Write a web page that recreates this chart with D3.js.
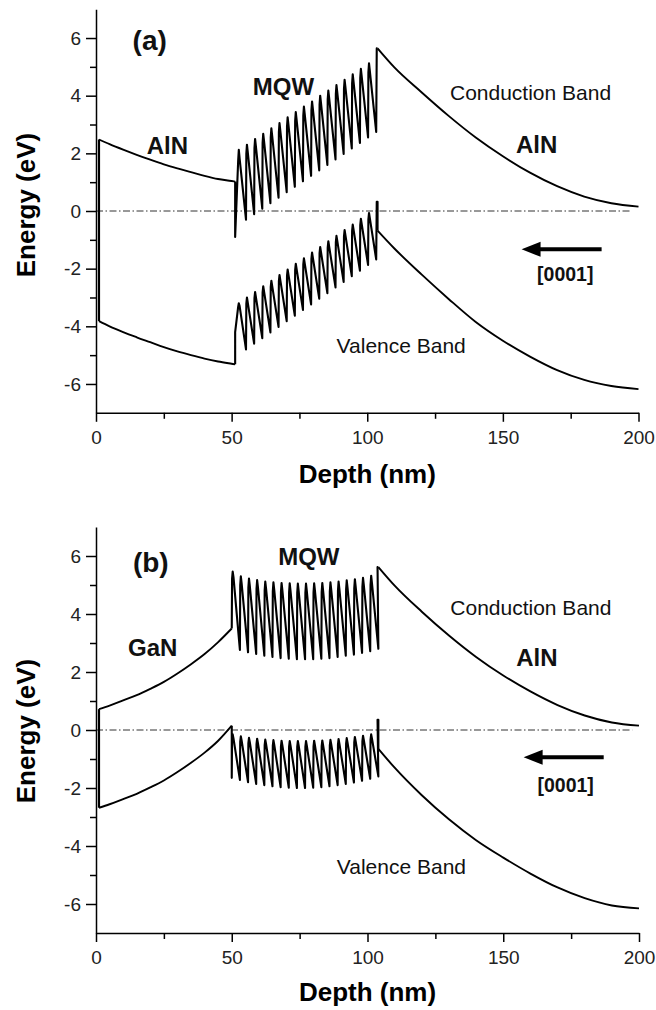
<!DOCTYPE html>
<html><head><meta charset="utf-8">
<script src="https://cdn.jsdelivr.net/npm/d3@7"></script>
<style>
body{margin:0;background:#fff;}
svg{display:block;font-family:"Liberation Sans",Arial,sans-serif;}
</style></head>
<body><svg id="c" width="656" height="1010"></svg>
<script>
// ---------- tick labels ----------
const xTicks = [0, 50, 100, 150, 200];
const xMinor = [25, 75, 125, 175];
const yTicks = [-6, -4, -2, 0, 2, 4, 6];
const yMinor = [-5, -3, -1, 1, 3, 5];

// ---------- panel (a) : AlN / MQW / AlN ----------
const aCbLeft = [[1.1,2.48],[5,2.32],[10,2.13],[15,1.95],[20,1.78],[25,1.62],[30,1.48],[35,1.35],[40,1.22],[45,1.11],[50,1.04],[51.3,1.02]];
const aVbLeft = [[1.1,-3.82],[5,-4.0],[10,-4.2],[15,-4.38],[20,-4.55],[25,-4.72],[30,-4.87],[35,-5.0],[40,-5.12],[45,-5.22],[50,-5.3],[51.3,-5.32]];
const aCbRight = [[103.8,5.64],[110,4.98],[120,4.12],[130,3.3],[140,2.55],[150,1.9],[160,1.33],[170,0.86],[180,0.5],[190,0.27],[200,0.15]];
const aVbRight = [[103.8,-0.68],[110,-1.3],[120,-2.2],[130,-3.05],[140,-3.85],[150,-4.5],[160,-5.05],[170,-5.52],[180,-5.86],[190,-6.07],[200,-6.18]];
// MQW fingers (a): first bottom right after the step at 51.3, fingers every 3 nm
const aMqwStart = 52.3;
const aCbTops = [2.12,2.3,2.5,2.68,2.87,3.05,3.25,3.43,3.62,3.8,4.0,4.18,4.37,4.55,4.74,4.93,5.12];
const aCbBots = [-0.9,-0.3,-0.11,0.08,0.27,0.46,0.65,0.84,1.03,1.22,1.41,1.6,1.79,1.98,2.17,2.36,2.55,2.74];
const aVbTops = [-3.2,-3.0,-2.81,-2.61,-2.42,-2.22,-2.03,-1.83,-1.64,-1.44,-1.25,-1.05,-0.86,-0.66,-0.47,-0.27,-0.07];
const aVbBots = [-4.2,-4.8,-4.6,-4.41,-4.21,-4.02,-3.82,-3.63,-3.43,-3.24,-3.04,-2.85,-2.65,-2.46,-2.26,-2.07,-1.87,-1.68];
const aCbPeak = 5.64, aVbPeak = 0.32;

// ---------- panel (b) : GaN / MQW / AlN ----------
const bCbLeft = [[1.1,0.72],[5,0.84],[10,1.02],[15,1.2],[20,1.42],[25,1.66],[30,1.95],[35,2.27],[40,2.62],[45,3.03],[50,3.5]];
const bVbLeft = [[1.1,-2.68],[5,-2.56],[10,-2.38],[15,-2.2],[20,-1.98],[25,-1.74],[30,-1.45],[35,-1.13],[40,-0.78],[45,-0.37],[50,0.15]];
const bCbRight = [[104,5.62],[110,4.98],[120,4.08],[130,3.26],[140,2.52],[150,1.88],[160,1.33],[170,0.86],[180,0.5],[190,0.26],[200,0.15]];
const bVbRight = [[104,-0.65],[110,-1.3],[120,-2.25],[130,-3.08],[140,-3.8],[150,-4.4],[160,-4.95],[170,-5.43],[180,-5.8],[190,-6.05],[200,-6.15]];
const bMqwStart = 50;
const bCbTops = [5.46,5.3,5.22,5.17,5.12,5.09,5.07,5.06,5.05,5.05,5.06,5.07,5.09,5.12,5.16,5.2,5.25,5.32];
const bCbBots = [3.5,2.76,2.68,2.62,2.56,2.52,2.48,2.46,2.44,2.44,2.44,2.46,2.48,2.52,2.56,2.6,2.66,2.72,2.8];
const bVbTops = [-0.15,-0.22,-0.27,-0.3,-0.33,-0.35,-0.37,-0.38,-0.38,-0.38,-0.37,-0.36,-0.34,-0.31,-0.28,-0.24,-0.2,-0.15];
const bVbBots = [-1.65,-1.72,-1.8,-1.86,-1.9,-1.94,-1.97,-1.99,-2.0,-2.0,-1.99,-1.97,-1.94,-1.9,-1.86,-1.81,-1.75,-1.68,-1.6];
const bCbPeak = 5.62, bVbPeak = 0.35;
const period = 3.0;

// ---------- annotations (data units) ----------
const aLabels = [
  {t:"(a)", x:13.5, y:5.58, bold:true, size:28},
  {t:"MQW", x:57.8, y:4.02, bold:true, size:24},
  {t:"AlN", x:18.7, y:1.98, bold:true, size:24},
  {t:"Conduction Band", x:130.5, y:3.85, bold:false, size:21},
  {t:"AlN", x:154.8, y:2.0, bold:true, size:24},
  {t:"Valence Band", x:88.7, y:-4.91, bold:false, size:21},
  {t:"[0001]", x:162.6, y:-2.42, bold:true, size:19.5}
];
const bLabels = [
  {t:"(b)", x:13.6, y:5.45, bold:true, size:28},
  {t:"MQW", x:67.1, y:5.69, bold:true, size:24},
  {t:"GaN", x:11.8, y:2.55, bold:true, size:24},
  {t:"Conduction Band", x:130.5, y:3.98, bold:false, size:21},
  {t:"AlN", x:154.8, y:2.2, bold:true, size:24},
  {t:"Valence Band", x:88.7, y:-4.96, bold:false, size:21},
  {t:"[0001]", x:162.6, y:-2.13, bold:true, size:19.5}
];
const aArrow = {x1:186.4, x2:156.9, y:-1.33};
const bArrow = {x1:187.0, x2:157.5, y:-0.94};

const svg = d3.select("#c");

function fingers(start, tops, bots, firstX, peak, peakX) {
  // builds the MQW sawtooth from the read tops / bottoms
  const pts = [[firstX, bots[0]]];
  tops.forEach((t, i) => {
    const x0 = start + i * period;
    const b = bots[i];
    const h = t - b;
    if (i > 0) pts.push([x0, b]);
    pts.push([x0 + 0.12, t - 0.12 * h]);
    pts.push([x0 + 0.35, t]);
    pts.push([x0 + 0.65, t - 0.1 * h]);
  });
  const xe = start + tops.length * period;
  pts.push([xe, bots[tops.length]]);
  pts.push([peakX, peak]);
  return pts;
}

function panel(cfg) {
  const x = d3.scaleLinear([0, 200], cfg.xr);
  const y = d3.scaleLinear([-7, 7], cfg.yr);
  const g = svg.append("g");
  const smooth = d3.line().x(d => x(d[0])).y(d => y(d[1])).curve(d3.curveMonotoneX);
  const lin = d3.line().x(d => x(d[0])).y(d => y(d[1]));

  // zero line
  g.append("line").attr("x1", x(0)).attr("x2", x(197.5)).attr("y1", y(0)).attr("y2", y(0))
    .attr("stroke", "#333").attr("stroke-width", 1).attr("stroke-dasharray", "7,2.5,1.5,2.5");

  const st = (s, w) => s.attr("fill", "none").attr("stroke", "#000").attr("stroke-width", w || 1.9).attr("stroke-linejoin", "round");

  g.append("path").attr("d", lin([cfg.vbL[0], cfg.cbL[0]])).call(st, 2.2);
  g.append("path").attr("d", smooth(cfg.cbL)).call(st);
  g.append("path").attr("d", smooth(cfg.vbL)).call(st);
  g.append("path").attr("d", smooth(cfg.cbR)).call(st);
  g.append("path").attr("d", smooth(cfg.vbR)).call(st);

  const cbLast = cfg.cbL[cfg.cbL.length - 1], vbLast = cfg.vbL[cfg.vbL.length - 1];
  const cbM = [cbLast].concat(fingers(cfg.start, cfg.cbT, cfg.cbB, cbLast[0], cfg.cbPk, cfg.cbR[0][0] - 0.3), [cfg.cbR[0]]);
  const vbM = [vbLast].concat(fingers(cfg.start, cfg.vbT, cfg.vbB, vbLast[0], cfg.vbPk, cfg.vbR[0][0] - 0.3), [[cfg.vbR[0][0], cfg.vbPk], cfg.vbR[0]]);
  g.append("path").attr("d", lin(cbM)).call(st, 2.1);
  g.append("path").attr("d", lin(vbM)).call(st, 2.1);

  // axes
  const fmt = d => String(d);
  g.append("g").attr("transform", `translate(0,${y(-7)})`)
    .call(d3.axisBottom(x).tickValues(xTicks).tickSize(9).tickSizeOuter(0).tickPadding(8.5).tickFormat(fmt));
  g.append("g").attr("transform", `translate(0,${y(-7)})`)
    .call(d3.axisBottom(x).tickValues(xMinor).tickSize(6).tickSizeOuter(0).tickFormat(""))
    .select(".domain").remove();
  g.append("g").attr("transform", `translate(${x(0)},0)`)
    .call(d3.axisLeft(y).tickValues(yTicks).tickSize(10).tickSizeOuter(0).tickPadding(5).tickFormat(fmt));
  g.append("g").attr("transform", `translate(${x(0)},0)`)
    .call(d3.axisLeft(y).tickValues(yMinor).tickSize(6).tickSizeOuter(0).tickFormat(""))
    .select(".domain").remove();
  g.selectAll(".domain, .tick line").attr("stroke", "#000").attr("stroke-width", 1.5);
  g.selectAll(".tick text").attr("font-size", 19).attr("font-family", '"Liberation Sans",Arial,sans-serif').attr("fill", "#222");

  // axis titles
  g.append("text").attr("transform", `translate(35,${cfg.yTitleC}) rotate(-90)`).attr("text-anchor", "middle")
    .attr("font-weight", "bold").attr("font-size", 26).text("Energy (eV)");
  g.append("text").attr("x", x(100)).attr("y", cfg.xTitleY).attr("text-anchor", "middle")
    .attr("font-weight", "bold").attr("font-size", 26).text("Depth (nm)");

  // labels
  cfg.labels.forEach(l => {
    g.append("text").attr("x", x(l.x)).attr("y", y(l.y)).attr("font-size", l.size)
      .attr("font-weight", l.bold ? "bold" : "normal").attr("fill", "#111").text(l.t);
  });
  // arrow
  const a = cfg.arrow;
  g.append("line").attr("x1", x(a.x1)).attr("x2", x(a.x2) + 14).attr("y1", y(a.y)).attr("y2", y(a.y))
    .attr("stroke", "#000").attr("stroke-width", 4);
  g.append("path").attr("d", `M${x(a.x2)},${y(a.y)} L${x(a.x2) + 19},${y(a.y) - 7.5} L${x(a.x2) + 19},${y(a.y) + 7.5} Z`).attr("fill", "#000");
}

panel({xr:[96, 638.5], yr:[412.8, 9.2], cbL:aCbLeft, vbL:aVbLeft, cbR:aCbRight, vbR:aVbRight,
  start:aMqwStart, cbT:aCbTops, cbB:aCbBots, vbT:aVbTops, vbB:aVbBots, cbPk:aCbPeak, vbPk:aVbPeak,
  labels:aLabels, arrow:aArrow, yTitleC:205, xTitleY:483});
panel({xr:[96, 639], yr:[933, 527], cbL:bCbLeft, vbL:bVbLeft, cbR:bCbRight, vbR:bVbRight,
  start:bMqwStart, cbT:bCbTops, cbB:bCbBots, vbT:bVbTops, vbB:bVbBots, cbPk:bCbPeak, vbPk:bVbPeak,
  labels:bLabels, arrow:bArrow, yTitleC:731, xTitleY:1001});
</script></body></html>
